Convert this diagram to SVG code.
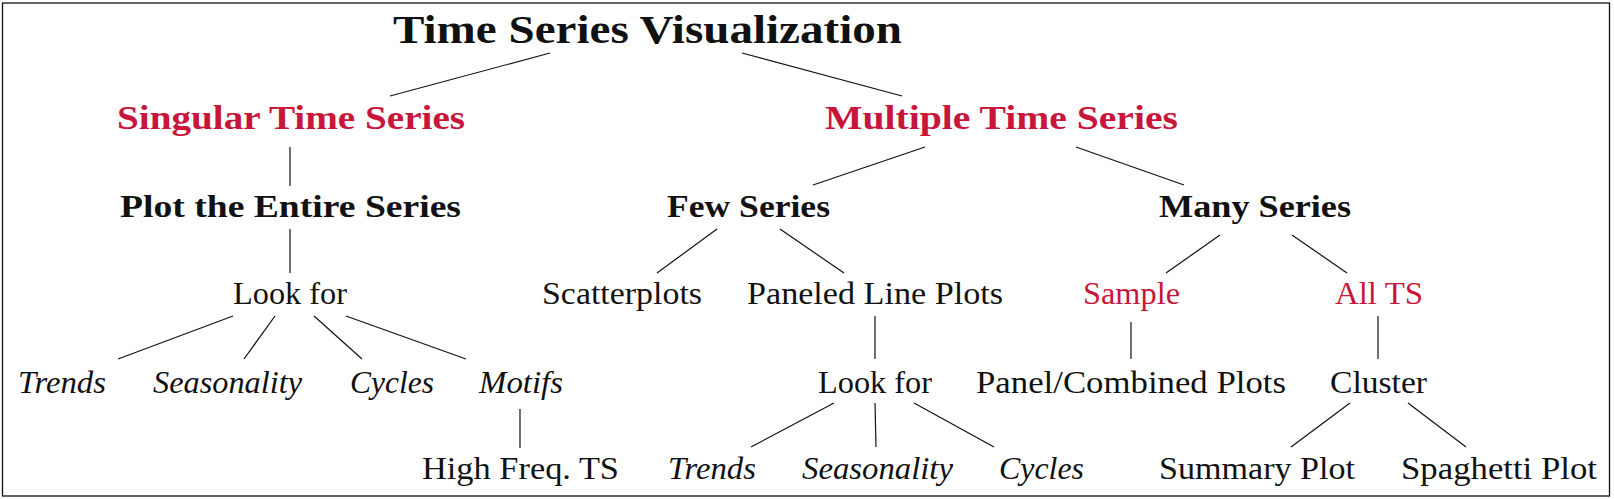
<svg xmlns="http://www.w3.org/2000/svg" width="1614" height="499" viewBox="0 0 1614 499">
<style>
text{font-family:"Liberation Serif","Times New Roman",serif;fill:#111;lengthAdjust:spacingAndGlyphs}
.t{font-size:39px;font-weight:bold}
.h{font-size:33px;font-weight:bold;fill:#c8153a}
.b{font-size:31px;font-weight:bold}
.n{font-size:31px}
.i{font-size:31px;font-style:italic}
.r{fill:#c8153a}
#edges line{stroke:#111;stroke-width:1.2}
</style>
<rect x="2.5" y="3" width="1607" height="493" fill="#fff" stroke="#111" stroke-width="1.3"/>
<g id="edges">
<line x1="550" y1="53" x2="390" y2="96"/>
<line x1="742" y1="53" x2="902" y2="96"/>
<line x1="290" y1="147" x2="290" y2="186"/>
<line x1="925" y1="147" x2="813" y2="185"/>
<line x1="1076" y1="147" x2="1184" y2="185"/>
<line x1="290" y1="229" x2="290" y2="273"/>
<line x1="717" y1="229" x2="657" y2="273"/>
<line x1="780" y1="229" x2="844" y2="273"/>
<line x1="1220" y1="235" x2="1166" y2="273"/>
<line x1="1292" y1="235" x2="1347" y2="273"/>
<line x1="233" y1="316" x2="118" y2="359"/>
<line x1="275" y1="316" x2="244" y2="359"/>
<line x1="314" y1="316" x2="362" y2="359"/>
<line x1="346" y1="316" x2="466" y2="359"/>
<line x1="875" y1="316" x2="875" y2="359"/>
<line x1="1131" y1="322" x2="1131" y2="359"/>
<line x1="1378" y1="316" x2="1378" y2="359"/>
<line x1="520" y1="409" x2="520" y2="448"/>
<line x1="834" y1="403" x2="751" y2="447"/>
<line x1="875" y1="403" x2="876" y2="447"/>
<line x1="914" y1="403" x2="994" y2="447"/>
<line x1="1350" y1="403" x2="1291" y2="447"/>
<line x1="1408" y1="403" x2="1466" y2="447"/>
</g>
<g id="n-root"><text class="t" x="393" y="43" textLength="509" lengthAdjust="spacingAndGlyphs">Time Series Visualization</text></g>
<g id="n-singular"><text class="h" x="117" y="129" textLength="348" lengthAdjust="spacingAndGlyphs">Singular Time Series</text></g>
<g id="n-multiple"><text class="h" x="825" y="129" textLength="353" lengthAdjust="spacingAndGlyphs">Multiple Time Series</text></g>
<g id="n-plot"><text class="b" x="120" y="217" textLength="341" lengthAdjust="spacingAndGlyphs">Plot the Entire Series</text></g>
<g id="n-few"><text class="b" x="667" y="217" textLength="163" lengthAdjust="spacingAndGlyphs">Few Series</text></g>
<g id="n-many"><text class="b" x="1159" y="217" textLength="192" lengthAdjust="spacingAndGlyphs">Many Series</text></g>
<g id="n-look1"><text class="n" x="233" y="304" textLength="114" lengthAdjust="spacingAndGlyphs">Look for</text></g>
<g id="n-scatter"><text class="n" x="542" y="304" textLength="160" lengthAdjust="spacingAndGlyphs">Scatterplots</text></g>
<g id="n-paneled"><text class="n" x="747" y="304" textLength="256" lengthAdjust="spacingAndGlyphs">Paneled Line Plots</text></g>
<g id="n-sample"><text class="n r" x="1083" y="304" textLength="97" lengthAdjust="spacingAndGlyphs">Sample</text></g>
<g id="n-allts"><text class="n r" x="1335" y="304" textLength="88" lengthAdjust="spacingAndGlyphs">All TS</text></g>
<g id="n-trends1"><text class="i" x="18" y="393" textLength="88" lengthAdjust="spacingAndGlyphs">Trends</text></g>
<g id="n-season1"><text class="i" x="153" y="393" textLength="149" lengthAdjust="spacingAndGlyphs">Seasonality</text></g>
<g id="n-cycles1"><text class="i" x="350" y="393" textLength="84" lengthAdjust="spacingAndGlyphs">Cycles</text></g>
<g id="n-motifs"><text class="i" x="479" y="393" textLength="84" lengthAdjust="spacingAndGlyphs">Motifs</text></g>
<g id="n-look2"><text class="n" x="818" y="393" textLength="114" lengthAdjust="spacingAndGlyphs">Look for</text></g>
<g id="n-panel"><text class="n" x="976" y="393" textLength="310" lengthAdjust="spacingAndGlyphs">Panel/Combined Plots</text></g>
<g id="n-cluster"><text class="n" x="1330" y="393" textLength="97" lengthAdjust="spacingAndGlyphs">Cluster</text></g>
<g id="n-highfreq"><text class="n" x="422" y="479" textLength="197" lengthAdjust="spacingAndGlyphs">High Freq. TS</text></g>
<g id="n-trends2"><text class="i" x="668" y="479" textLength="88" lengthAdjust="spacingAndGlyphs">Trends</text></g>
<g id="n-season2"><text class="i" x="802" y="479" textLength="151" lengthAdjust="spacingAndGlyphs">Seasonality</text></g>
<g id="n-cycles2"><text class="i" x="999" y="479" textLength="85" lengthAdjust="spacingAndGlyphs">Cycles</text></g>
<g id="n-summary"><text class="n" x="1159" y="479" textLength="196" lengthAdjust="spacingAndGlyphs">Summary Plot</text></g>
<g id="n-spaghetti"><text class="n" x="1401" y="479" textLength="196" lengthAdjust="spacingAndGlyphs">Spaghetti Plot</text></g>
</svg>
